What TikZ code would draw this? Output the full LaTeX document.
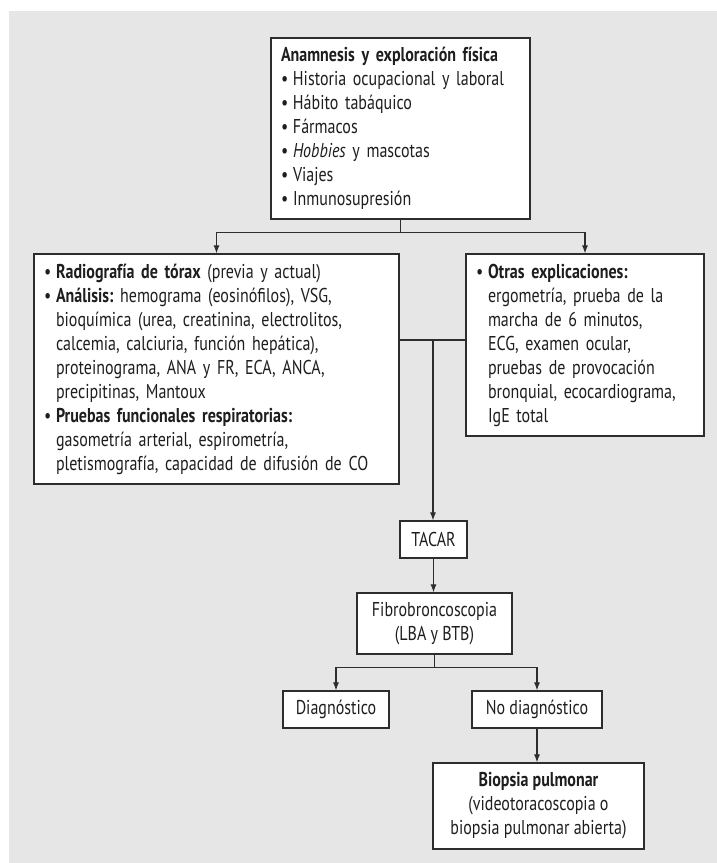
\documentclass[tikz,border=0pt]{standalone}
\usepackage{fontspec}
\setmainfont{PT Sans}[FakeStretch=0.8]
\usetikzlibrary{arrows.meta}
\definecolor{bg}{RGB}{230,230,230}
\definecolor{ln}{RGB}{45,45,45}
\definecolor{tx}{RGB}{30,30,30}
\newcommand\bul{\makebox[12pt][l]{•}}
\newcommand\ind{\hspace*{12pt}}
\newcommand\li[1]{\mbox{#1}}
\frenchspacing
\begin{document}
\begin{tikzpicture}[x=1pt,y=-1pt,
  box/.style={draw=ln, line width=1.2pt, fill=white, inner sep=0pt, text=tx,
    font=\fontsize{20}{24}\selectfont},
  lbox/.style={box, align=left},
  cbox/.style={box, align=center},
  conn/.style={draw=ln, line width=1.1pt},
  arr/.style={conn, -{Latex[length=8pt,width=6pt]}}]
\useasboundingbox (0,0) rectangle (717,863);
\fill[bg] (9,11) rectangle (717,863);

\node[lbox, minimum width=259pt, minimum height=181pt, text width=239pt] (top) at (400.5,128.5)
 {\li{\textbf{Anamnesis y exploración física}}\\
  \li{\bul Historia ocupacional y laboral}\\
  \li{\bul Hábito tabáquico}\\
  \li{\bul Fármacos}\\
  \li{\bul \textit{Hobbies} y mascotas}\\
  \li{\bul Viajes}\\
  \li{\bul Inmunosupresión}};

\node[lbox, minimum width=365pt, minimum height=230pt, text width=345pt] (left) at (216.5,369)
 {\li{\bul\textbf{Radiografía de tórax} (previa y actual)}\\
  \li{\bul\textbf{Análisis:} hemograma (eosinófilos), VSG,}\\
  \li{\ind bioquímica (urea, creatinina, electrolitos,}\\
  \li{\ind calcemia, calciuria, función hepática),}\\
  \li{\ind proteinograma, ANA y FR, ECA, ANCA,}\\
  \li{\ind precipitinas, Mantoux}\\
  \li{\bul\textbf{Pruebas funcionales respiratorias:}}\\
  \li{\ind gasometría arterial, espirometría,}\\
  \li{\ind pletismografía, capacidad de difusión de CO}};

\node[lbox, minimum width=238pt, minimum height=182pt, text width=218pt] (right) at (585,345)
 {\li{\bul\textbf{Otras explicaciones:}}\\
  \li{\ind ergometría, prueba de la}\\
  \li{\ind marcha de 6 minutos,}\\
  \li{\ind ECG, examen ocular,}\\
  \li{\ind pruebas de provocación}\\
  \li{\ind bronquial, ecocardiograma,}\\
  \li{\ind IgE total}};

\node[cbox, minimum width=67pt, minimum height=37pt] (tacar) at (433.5,539.5) {TACAR};
\node[cbox, minimum width=155pt, minimum height=61pt] (fibro) at (434.5,623.5)
 {Fibrobroncoscopia\\(LBA y BTB)};
\node[cbox, minimum width=106pt, minimum height=37pt] (diag) at (336,709.5) {Diagnóstico};
\node[cbox, minimum width=130pt, minimum height=37pt] (nodiag) at (537,709.5) {No diagnóstico};
\node[cbox, minimum width=211pt, minimum height=86pt] (bio) at (538.5,806)
 {\textbf{Biopsia pulmonar}\\(videotoracoscopia o\\biopsia pulmonar abierta)};

\draw[conn] (top.south) -- ++(0,13) coordinate (j1);
\draw[arr] (j1) -| (left.north);
\draw[arr] (j1) -| (right.north);

\coordinate (m) at (433,340);
\draw[conn] (m -| left.east) -- (m -| right.west);
\draw[arr] (m) -- (m |- tacar.north);
\draw[arr] (tacar.south) -- (tacar.south |- fibro.north);

\draw[conn] (fibro.south) -- ++(0,13) coordinate (j2);
\draw[arr] (j2) -| (diag.north);
\draw[arr] (j2) -| (nodiag.north);
\draw[arr] (nodiag.south) -- (nodiag.south |- bio.north);
\end{tikzpicture}
\end{document}
